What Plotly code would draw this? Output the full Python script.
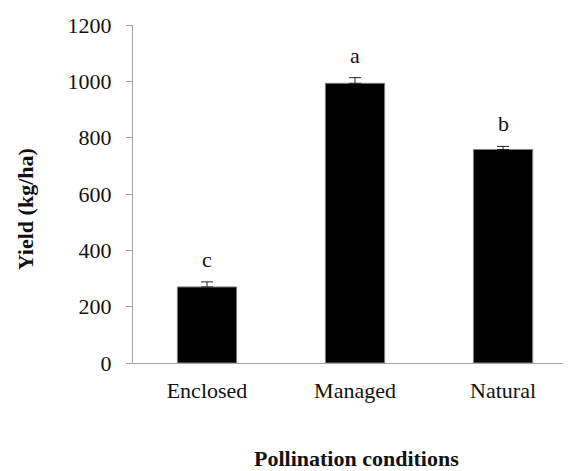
import plotly.graph_objects as go

categories = ["Enclosed", "Managed", "Natural"]
yield_mean = [270, 993, 758]
yield_err = [18, 20, 11]
letters = ["c", "a", "b"]
y_ticks = [0, 200, 400, 600, 800, 1000, 1200]

FONT = "Liberation Serif, Times New Roman, serif"

# page body has an 8px default margin; work in figure coordinates
OFF = 8
W, H = 571 - OFF, 471 - OFF
plot_l, plot_t, plot_b = 133 - OFF, 24.5 - OFF, 363 - OFF
ph = plot_b - plot_t
pw = W - plot_l

fig = go.Figure()
fig.add_trace(go.Bar(
    x=categories, y=yield_mean,
    marker=dict(color="black", line=dict(color="#7f7f7f", width=1)),
    error_y=dict(type="data", array=yield_err, symmetric=False,
                 arrayminus=[0] * len(yield_err),
                 color="#222222", thickness=1, width=6),
))

for cat, m, e, lab in zip(categories, yield_mean, yield_err, letters):
    fig.add_annotation(x=cat, y=m + e, text=lab, showarrow=False,
                       yanchor="bottom", yshift=8,
                       font=dict(family=FONT, size=22, color="#111"))

fig.add_annotation(xref="paper", yref="paper", x=(25 - OFF - plot_l) / pw,
                   y=(plot_b - (209 - OFF)) / ph, text="<b>Yield (kg/ha)</b>",
                   textangle=-90, showarrow=False, xanchor="center", yanchor="middle",
                   font=dict(family=FONT, size=22, color="#111"))
fig.add_annotation(xref="paper", yref="paper", x=(356 - OFF - plot_l) / pw,
                   y=(plot_b - (459 - OFF)) / ph, text="<b>Pollination conditions</b>",
                   showarrow=False, xanchor="center", yanchor="middle",
                   font=dict(family=FONT, size=22, color="#111"))

fig.update_layout(
    width=W, height=H,
    margin=dict(l=plot_l, r=0, t=plot_t, b=H - plot_b, pad=0),
    paper_bgcolor="white", plot_bgcolor="white",
    showlegend=False, bargap=0.6,
    font=dict(family=FONT, size=22, color="#111"),
    xaxis=dict(range=[-0.5, 2.459], showline=True, linecolor="#a6a6a6", linewidth=1,
               ticks="", showgrid=False, ticklabelstandoff=8, automargin=False,
               tickfont=dict(family=FONT, size=22, color="#111")),
    yaxis=dict(range=[0, 1200], tickvals=y_ticks, showline=True, linecolor="#a6a6a6",
               linewidth=1, ticks="outside", ticklen=6, tickcolor="#a6a6a6",
               showgrid=False, zeroline=False, ticklabelstandoff=10, automargin=False,
               tickfont=dict(family=FONT, size=22, color="#111")),
)

fig.write_html("out.html")
